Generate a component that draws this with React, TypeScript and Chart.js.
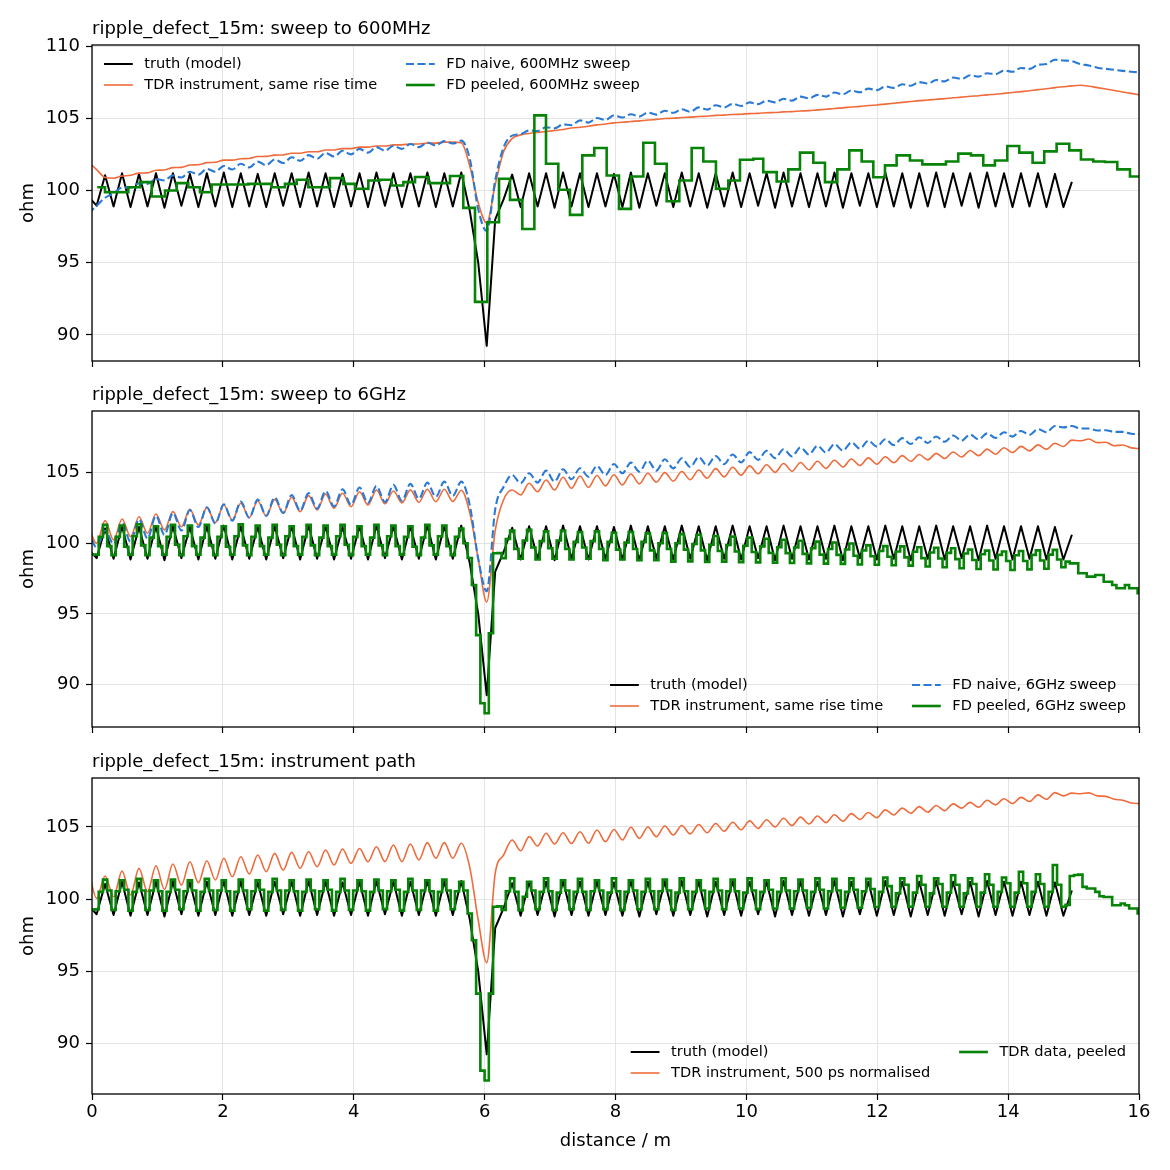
import React, { useEffect, useRef } from "react";
import { Chart, registerables } from "chart.js";

Chart.register(...registerables);
Chart.defaults.font.family = "DejaVu Sans";

// ---------------- axes ----------------
const X_TICKS = [0, 2, 4, 6, 8, 10, 12, 14, 16];
const Y_TICKS_600 = [90, 95, 100, 105, 110];
const Y_TICKS_6G = [90, 95, 100, 105];
const Y_TICKS_INSTR = [90, 95, 100, 105];

// sampling grids (distance, m)
const LINE_X0 = -0.0592; // ripple-resolved curves: one sample per half ripple period
const LINE_DX = 0.1296;
const STEP_X0 = -0.0268; // peeled 6 GHz / TDR profiles: one step per quarter period
const STEP_DX = 0.0648;

// ---------------- truth (model), ohm ----------------
const TRUTH = [
  99.6,
  98.95, 101.05, 98.9, 101.2, 98.85, 101.15, 98.9, 101.2, 98.8, 101.2,
  98.95, 101.15, 98.85, 101.2, 98.9, 101.25, 98.85, 101.2, 98.9, 101.15,
  98.85, 101.2, 98.95, 101.2, 98.85, 101.25, 98.9, 101.2, 98.85, 101.15,
  98.9, 101.2, 98.85, 101.25, 98.95, 101.2, 98.85, 101.2, 98.9, 101.25,
  98.85, 101.2, 98.9, 101.25, 98.6, 95.0, 89.25, 98.0, 99.4, 101.1,
  98.85, 101.2, 98.9, 101.2, 98.8, 101.25, 98.9, 101.2, 98.85, 101.2,
  98.9, 101.15, 98.85, 101.25, 98.8, 101.2, 98.95, 101.2, 98.85, 101.25,
  98.9, 101.2, 98.8, 101.2, 98.9, 101.25, 98.85, 101.2, 98.95, 101.2,
  98.8, 101.25, 98.9, 101.2, 98.85, 101.2, 98.9, 101.25, 98.8, 101.2,
  98.95, 101.2, 98.85, 101.25, 98.9, 101.2, 98.8, 101.2, 98.9, 101.25,
  98.85, 101.2, 98.95, 101.2, 98.8, 101.25, 98.9, 101.2, 98.85, 101.2,
  98.9, 101.2, 98.85, 101.15, 98.85, 100.6,
];

// ---------------- panel 1: sweep to 600 MHz ----------------
const TDR_600 = [
  102.0,
  101.45, 100.9, 100.85, 101.0, 101.05, 101.2, 101.22, 101.4, 101.42, 101.58,
  101.6, 101.76, 101.78, 101.93, 101.95, 102.1, 102.1, 102.2, 102.22, 102.35,
  102.36, 102.45, 102.46, 102.58, 102.58, 102.68, 102.68, 102.8, 102.8, 102.9,
  102.9, 103.0, 103.0, 103.08, 103.08, 103.16, 103.16, 103.22, 103.22, 103.28,
  103.28, 103.35, 103.35, 103.3, 101.7, 99.15, 97.75, 100.4, 102.7, 103.6,
  103.85, 103.95, 104.02, 104.08, 104.15, 104.22, 104.32, 104.38, 104.45, 104.54,
  104.6, 104.68, 104.72, 104.78, 104.82, 104.88, 104.92, 104.98, 105.0, 105.05,
  105.08, 105.12, 105.14, 105.2, 105.22, 105.26, 105.28, 105.32, 105.34, 105.38,
  105.4, 105.44, 105.46, 105.5, 105.53, 105.58, 105.62, 105.68, 105.72, 105.78,
  105.82, 105.88, 105.92, 105.98, 106.04, 106.1, 106.16, 106.22, 106.26, 106.32,
  106.36, 106.42, 106.46, 106.52, 106.56, 106.62, 106.66, 106.72, 106.78, 106.84,
  106.9, 106.98, 107.04, 107.12, 107.18, 107.24, 107.28, 107.22, 107.12, 107.02,
  106.92, 106.82, 106.72, 106.62,
];

const FD_NAIVE_600 = [
  98.4,
  98.95, 99.5, 99.8, 100.2, 100.2, 100.5, 100.45, 100.8, 100.7, 101.05,
  100.9, 101.3, 101.1, 101.5, 101.3, 101.7, 101.45, 101.85, 101.6, 102.0,
  101.75, 102.15, 101.9, 102.3, 102.05, 102.45, 102.2, 102.6, 102.35, 102.75,
  102.5, 102.88, 102.62, 103.0, 102.75, 103.1, 102.88, 103.22, 103.0, 103.32,
  103.12, 103.42, 103.25, 103.45, 102.2, 98.7, 97.2, 100.7, 103.0, 103.8,
  103.9, 104.15, 104.12, 104.38, 104.3, 104.58, 104.52, 104.85, 104.7, 105.02,
  104.88, 105.2, 105.05, 105.28, 105.12, 105.4, 105.25, 105.52, 105.38, 105.62,
  105.45, 105.75, 105.6, 105.9, 105.75, 106.0, 105.85, 106.1, 105.98, 106.22,
  106.1, 106.35, 106.22, 106.5, 106.38, 106.62, 106.5, 106.78, 106.65, 106.92,
  106.8, 107.05, 106.95, 107.2, 107.1, 107.35, 107.25, 107.5, 107.4, 107.65,
  107.55, 107.82, 107.72, 107.98, 107.88, 108.12, 108.05, 108.3, 108.22, 108.48,
  108.42, 108.7, 108.75, 109.05, 109.0, 108.95, 108.75, 108.65, 108.5, 108.42,
  108.35, 108.28, 108.22, 108.18,
];

const FD_PEELED_600_EDGES = [
  0.08, 0.199, 0.555, 0.733, 0.912, 1.116, 1.294, 1.472, 1.65, 1.829,
  2.389, 2.746, 2.949, 3.128, 3.306, 3.637, 3.841, 4.019, 4.223, 4.401,
  4.58, 4.758, 4.936, 5.14, 5.471, 5.674, 5.853, 6.041, 6.22, 6.388,
  6.576, 6.76, 6.938, 7.126, 7.304, 7.493, 7.676, 7.865, 8.053, 8.237,
  8.425, 8.603, 8.782, 8.975, 9.164, 9.342, 9.535, 9.724, 9.902, 10.106,
  10.258, 10.463, 10.641, 10.819, 11.023, 11.201, 11.39, 11.573, 11.762, 11.94,
  12.118, 12.296, 12.5, 12.689, 13.05, 13.238, 13.432, 13.62, 13.798, 13.987,
  14.17, 14.374, 14.552, 14.741, 14.935, 15.113, 15.301, 15.48, 15.668, 15.862,
  16.0,
];
const FD_PEELED_600_LEVELS = [
  100.23, 99.88, 100.23, 100.58, 99.58, 100.0, 100.51, 100.23, 99.88, 100.42,
  100.46, 100.23, 100.46, 100.74, 100.23, 100.86, 100.46, 100.12, 100.69, 100.74,
  100.35, 100.58, 100.93, 100.51, 101.0, 98.8, 92.29, 97.8, 100.81, 99.35,
  97.34, 105.2, 101.85, 100.05, 98.31, 102.43, 102.94, 101.04, 98.73, 100.97,
  103.31, 101.85, 99.26, 100.69, 102.94, 102.01, 100.12, 100.69, 102.13, 102.2,
  101.27, 100.62, 101.46, 102.62, 101.92, 100.58, 101.46, 102.78, 102.01, 100.92,
  101.74, 102.43, 102.08, 101.81, 102.01, 102.55, 102.43, 101.74, 102.08, 103.08,
  102.62, 101.92, 102.71, 103.24, 102.78, 102.15, 102.01, 101.97, 101.46, 100.97,
];

// ---------------- panel 2: sweep to 6 GHz ----------------
const TDR_6G = [
  101.3,
  100.0, 101.6, 100.23, 101.72, 100.47, 101.88, 100.71, 102.07, 100.94, 102.24,
  101.17, 102.4, 101.3, 102.52, 101.46, 102.71, 101.65, 102.83, 101.81, 102.99,
  101.93, 103.11, 102.12, 103.26, 102.24, 103.37, 102.36, 103.49, 102.48, 103.54,
  102.59, 103.65, 102.71, 103.77, 102.8, 103.7, 102.85, 103.78, 102.9, 103.82,
  102.94, 103.82, 102.96, 103.75, 102.15, 98.9, 95.85, 100.9, 103.1, 103.77,
  103.42, 104.25, 103.65, 104.48, 103.77, 104.67, 103.89, 104.76, 103.95, 104.8,
  104.06, 104.85, 104.13, 104.9, 104.2, 104.95, 104.32, 105.0, 104.4, 105.08,
  104.5, 105.18, 104.6, 105.28, 104.7, 105.38, 104.82, 105.48, 104.92, 105.56,
  105.02, 105.64, 105.1, 105.72, 105.2, 105.8, 105.3, 105.88, 105.4, 105.96,
  105.5, 106.04, 105.6, 106.12, 105.7, 106.2, 105.8, 106.28, 105.9, 106.36,
  106.0, 106.46, 106.1, 106.56, 106.2, 106.66, 106.3, 106.76, 106.42, 106.86,
  106.54, 106.96, 106.66, 107.08, 106.85, 107.3, 107.25, 107.38, 107.12, 107.15,
  106.9, 106.95, 106.75, 106.7,
];

const FD_NAIVE_6G = [
  101.0,
  99.7, 100.9, 99.95, 101.45, 100.1, 101.7, 100.35, 101.95, 100.6, 102.15,
  100.9, 102.35, 101.15, 102.55, 101.4, 102.75, 101.6, 102.95, 101.8, 103.1,
  101.95, 103.25, 102.15, 103.42, 102.3, 103.55, 102.45, 103.7, 102.6, 103.82,
  102.72, 103.95, 102.85, 104.05, 102.92, 104.13, 103.0, 104.2, 103.15, 104.29,
  103.28, 104.36, 103.35, 104.36, 102.7, 98.9, 96.6, 102.4, 104.0, 104.83,
  104.25, 104.95, 104.29, 105.14, 104.36, 105.24, 104.53, 105.31, 104.71, 105.47,
  104.83, 105.61, 104.95, 105.71, 105.07, 105.85, 105.14, 105.95, 105.3, 106.02,
  105.4, 106.1, 105.5, 106.18, 105.6, 106.28, 105.72, 106.45, 105.9, 106.55,
  106.02, 106.65, 106.15, 106.78, 106.28, 106.9, 106.42, 107.02, 106.56, 107.14,
  106.7, 107.26, 106.84, 107.36, 106.95, 107.44, 107.02, 107.5, 107.1, 107.56,
  107.18, 107.63, 107.26, 107.7, 107.35, 107.78, 107.45, 107.86, 107.55, 107.95,
  107.68, 108.08, 107.85, 108.3, 108.2, 108.3, 108.12, 108.12, 107.98, 108.0,
  107.88, 107.88, 107.75, 107.72,
];

const FD_PEELED_6G = [
  99.2, 99.2, 100.45,
  101.3, 99.8, 99.15, 100.45, 101.25, 99.75, 99.2, 100.5,
  101.35, 99.85, 99.15, 100.4, 101.2, 99.8, 99.2, 100.45,
  101.3, 99.9, 99.15, 100.5, 101.25, 99.8, 99.2, 100.4,
  101.3, 99.85, 99.15, 100.45, 101.2, 99.75, 99.2, 100.5,
  101.35, 99.85, 99.15, 100.45, 101.25, 99.8, 99.2, 100.4,
  101.3, 99.9, 99.15, 100.5, 101.2, 99.8, 99.2, 100.45,
  101.3, 99.85, 99.15, 100.4, 101.25, 99.8, 99.2, 100.5,
  101.3, 99.9, 99.15, 100.45, 101.2, 99.8, 99.2, 100.4,
  101.3, 99.85, 99.15, 100.5, 101.25, 99.8, 99.2, 100.45,
  101.2, 99.75, 99.15, 100.4, 101.3, 99.85, 99.2, 100.5,
  101.25, 99.8, 99.15, 100.45,
  101.05, 100.0, 98.96, 97.05, 93.5, 88.68, 87.97, 93.63,
  99.29, 99.3, 98.95, 100.3, 100.9, 99.6, 98.9, 100.2,
  100.95, 99.7, 98.85, 100.15, 100.85, 99.65, 98.9, 100.2,
  100.9, 99.6, 98.85, 100.1, 100.8, 99.7, 98.9, 100.15,
  100.85, 99.6, 98.8, 100.1, 100.75, 99.55, 98.85, 100.05,
  100.8, 99.6, 98.8, 100.1, 100.7, 99.5, 98.8, 100.0,
  100.72, 99.6, 98.7, 100.0, 100.65, 99.55, 98.72, 99.95,
  100.6, 99.5, 98.68, 99.9, 100.52, 99.45, 98.7, 99.88,
  100.47, 99.42, 98.66, 99.82, 100.4, 99.38, 98.65, 99.78,
  100.32, 99.32, 98.62, 99.72, 100.25, 99.3, 98.6, 99.7,
  100.18, 99.25, 98.58, 99.65, 100.12, 99.2, 98.56, 99.6,
  100.05, 99.18, 98.54, 99.56, 99.98, 99.12, 98.5, 99.5,
  99.85, 99.08, 98.48, 99.45, 99.8, 99.05, 98.45, 99.42,
  99.78, 99.0, 98.42, 99.4, 99.72, 98.95, 98.36, 99.35,
  99.68, 98.92, 98.3, 99.32, 99.65, 98.88, 98.23, 99.28,
  99.55, 98.82, 98.18, 99.22, 99.48, 98.78, 98.14, 99.18,
  99.42, 98.75, 98.11, 99.15, 99.45, 98.75, 98.15, 99.18,
  99.5, 98.78, 98.2, 99.2, 99.53, 98.85, 98.3, 98.7,
  98.58, 98.58, 97.88, 97.88, 97.64, 97.64, 97.76, 97.76,
  97.28, 97.28, 97.05, 96.82, 96.82, 97.05, 96.82, 96.82,
  96.46,
];

// ---------------- panel 3: instrument path ----------------
const TDR_500PS = [
  102.2,
  100.05, 101.6, 100.16, 101.94, 100.28, 102.13, 100.51, 102.31, 100.67, 102.43,
  100.97, 102.59, 101.13, 102.66, 101.32, 102.83, 101.55, 102.94, 101.74, 103.06,
  101.9, 103.17, 102.01, 103.24, 102.13, 103.28, 102.24, 103.4, 102.36, 103.47,
  102.48, 103.51, 102.59, 103.63, 102.6, 103.75, 102.59, 103.82, 102.71, 103.91,
  102.83, 103.91, 102.83, 103.87, 102.2, 98.54, 95.6, 101.78, 103.06, 104.1,
  103.35, 104.33, 103.68, 104.56, 103.82, 104.6, 103.85, 104.67, 103.87, 104.79,
  103.98, 104.82, 104.1, 104.98, 104.21, 105.0, 104.33, 105.07, 104.44, 105.1,
  104.52, 105.17, 104.6, 105.24, 104.7, 105.32, 104.8, 105.42, 104.9, 105.5,
  105.0, 105.6, 105.1, 105.68, 105.2, 105.76, 105.3, 105.84, 105.4, 105.92,
  105.52, 106.0, 105.64, 106.18, 105.83, 106.3, 105.95, 106.41, 106.02, 106.48,
  106.13, 106.6, 106.3, 106.7, 106.37, 106.85, 106.53, 106.95, 106.62, 107.05,
  106.76, 107.22, 106.92, 107.38, 107.15, 107.34, 107.3, 107.36, 107.15, 107.12,
  106.92, 106.85, 106.66, 106.62,
];

const TDR_PEELED = [
  99.25, 99.3, 100.5,
  101.35, 100.6, 99.25, 100.55, 101.3, 100.65, 99.2, 100.5,
  101.4, 100.6, 99.25, 100.6, 101.3, 100.55, 99.2, 100.5,
  101.35, 100.65, 99.3, 100.55, 101.3, 100.6, 99.2, 100.5,
  101.4, 100.6, 99.25, 100.6, 101.3, 100.55, 99.2, 100.5,
  101.35, 100.6, 99.3, 100.55, 101.3, 100.65, 99.2, 100.5,
  101.4, 100.6, 99.25, 100.6, 101.3, 100.55, 99.2, 100.5,
  101.35, 100.6, 99.3, 100.55, 101.3, 100.65, 99.2, 100.5,
  101.4, 100.6, 99.25, 100.6, 101.3, 100.55, 99.2, 100.5,
  101.35, 100.6, 99.3, 100.55, 101.3, 100.65, 99.2, 100.5,
  101.4, 100.6, 99.25, 100.6, 101.3, 100.55, 99.2, 100.5,
  101.35, 100.6, 99.3, 100.55,
  101.2, 100.6, 99.0, 97.15, 93.45, 88.12, 87.43, 93.45,
  99.47, 99.5, 99.25, 100.55, 101.44, 100.5, 99.24, 100.16,
  101.2, 100.6, 99.3, 100.5, 101.44, 100.55, 99.25, 100.45,
  101.3, 100.6, 99.3, 100.5, 101.4, 100.5, 99.25, 100.55,
  101.3, 100.6, 99.3, 100.45, 101.44, 100.55, 99.25, 100.5,
  101.3, 100.6, 99.3, 100.5, 101.4, 100.55, 99.3, 100.55,
  101.35, 100.6, 99.25, 100.45, 101.44, 100.55, 99.3, 100.5,
  101.3, 100.6, 99.35, 100.5, 101.4, 100.6, 99.3, 100.55,
  101.35, 100.55, 99.35, 100.45, 101.44, 100.6, 99.3, 100.5,
  101.3, 100.65, 99.35, 100.5, 101.45, 100.6, 99.35, 100.55,
  101.35, 100.6, 99.4, 100.5, 101.44, 100.65, 99.35, 100.55,
  101.4, 100.6, 99.4, 100.5, 101.44, 100.65, 99.4, 100.55,
  101.4, 100.7, 99.45, 100.5, 101.5, 100.9, 99.47, 100.4,
  101.44, 101.0, 99.47, 100.45, 101.6, 101.0, 99.47, 100.4,
  101.44, 101.05, 99.47, 100.45, 101.65, 101.0, 99.47, 100.4,
  101.44, 101.05, 99.47, 100.45, 101.72, 101.0, 99.47, 100.5,
  101.5, 101.1, 99.47, 100.45, 101.9, 101.1, 99.47, 100.5,
  101.72, 101.05, 99.47, 100.5, 102.36, 101.0, 99.47, 99.6,
  101.6, 101.67, 101.7, 100.85, 100.74, 100.74, 100.5, 100.2,
  100.15, 100.15, 99.58, 99.58, 99.7, 99.58, 99.35, 99.35,
  99.0,
];

// ---------------- styles ----------------
const C_TRUTH = "#000000";
const C_TDR = "#ef6b3b";
const C_NAIVE = "#2a7ad5";
const C_PEELED = "#078407";
const FONT = "DejaVu Sans";

type Pt = { x: number; y: number };
const onGrid = (vals: number[], x0: number, dx: number): Pt[] =>
  vals.map((y, j) => ({ x: x0 + j * dx, y }));
const stepsOnGrid = (vals: number[], x0: number, dx: number): Pt[] => [
  ...onGrid(vals, x0, dx),
  { x: x0 + vals.length * dx, y: vals[vals.length - 1] },
];
const stepsOnEdges = (edges: number[], levels: number[]): Pt[] =>
  edges.map((x, j) => ({ x, y: levels[Math.min(j, levels.length - 1)] }));

const truthDs = () => ({
  label: "truth (model)",
  data: onGrid(TRUTH, LINE_X0, LINE_DX),
  borderColor: C_TRUTH,
  borderWidth: 2.0,
  borderJoinStyle: "round",
  tension: 0,
  order: 4,
});
const tdrDs = (label: string, vals: number[]) => ({
  label,
  data: onGrid(vals, LINE_X0, LINE_DX),
  borderColor: C_TDR,
  borderWidth: 1.6,
  cubicInterpolationMode: "monotone",
  order: 3,
});
const naiveDs = (label: string, vals: number[]) => ({
  label,
  data: onGrid(vals, LINE_X0, LINE_DX),
  borderColor: C_NAIVE,
  borderWidth: 2.1,
  borderDash: [8, 3.5],
  cubicInterpolationMode: "monotone",
  order: 2,
});
const peeledDs = (label: string, data: Pt[]) => ({
  label,
  data,
  borderColor: C_PEELED,
  borderWidth: 2.6,
  stepped: true,
  order: 1,
});

type PanelCfg = {
  title: string;
  yMin: number;
  yMax: number;
  yTicks: number[];
  showX: boolean;
  padTop: number;
  xHeight: number;
  legendLoc: "upper left" | "lower right";
  datasets: any[];
};

const PANELS: { top: number; height: number; cfg: PanelCfg }[] = [
  {
    top: 0,
    height: 380,
    cfg: {
      title: "ripple_defect_15m: sweep to 600MHz",
      yMin: 88.2,
      yMax: 110.07,
      yTicks: Y_TICKS_600,
      showX: false,
      padTop: 45,
      xHeight: 19,
      legendLoc: "upper left",
      datasets: [
        truthDs(),
        tdrDs("TDR instrument, same rise time", TDR_600),
        naiveDs("FD naive, 600MHz sweep", FD_NAIVE_600),
        peeledDs("FD peeled, 600MHz sweep", stepsOnEdges(FD_PEELED_600_EDGES, FD_PEELED_600_LEVELS)),
      ],
    },
  },
  {
    top: 380,
    height: 366,
    cfg: {
      title: "ripple_defect_15m: sweep to 6GHz",
      yMin: 87.0,
      yMax: 109.36,
      yTicks: Y_TICKS_6G,
      showX: false,
      padTop: 31,
      xHeight: 19,
      legendLoc: "lower right",
      datasets: [
        truthDs(),
        tdrDs("TDR instrument, same rise time", TDR_6G),
        naiveDs("FD naive, 6GHz sweep", FD_NAIVE_6G),
        peeledDs("FD peeled, 6GHz sweep", stepsOnGrid(FD_PEELED_6G, STEP_X0, STEP_DX)),
      ],
    },
  },
  {
    top: 746,
    height: 424,
    cfg: {
      title: "ripple_defect_15m: instrument path",
      yMin: 86.5,
      yMax: 108.39,
      yTicks: Y_TICKS_INSTR,
      showX: true,
      padTop: 32,
      xHeight: 76,
      legendLoc: "lower right",
      datasets: [
        truthDs(),
        tdrDs("TDR instrument, 500 ps normalised", TDR_500PS),
        peeledDs("TDR data, peeled", stepsOnGrid(TDR_PEELED, STEP_X0, STEP_DX)),
      ],
    },
  },
];

function makeDecor(cfg: PanelCfg) {
  return {
    id: "decor",
    afterDraw(chart: any) {
      const { ctx, chartArea: a } = chart;
      ctx.save();
      ctx.setLineDash([]);
      ctx.strokeStyle = "#000";
      ctx.lineWidth = 1.3;
      ctx.strokeRect(a.left, a.top, a.right - a.left, a.bottom - a.top);

      ctx.fillStyle = "#000";
      ctx.font = `18px "${FONT}"`;
      ctx.textAlign = "left";
      ctx.textBaseline = "alphabetic";
      ctx.fillText(cfg.title, a.left, a.top - 11);

      const ds = chart.data.datasets;
      const idx = ds.map((_: any, i: number) => i);
      const rows = Math.ceil(idx.length / 2);
      const cols = [idx.slice(0, rows), idx.slice(rows)];
      ctx.font = `14.6px "${FONT}"`;
      const HANDLE = 28.8, PAD = 11.5, COLSP = 28.8, ROWH = 21;
      const widths = cols.map(
        (c: number[]) => HANDLE + PAD + Math.max(...c.map((i) => ctx.measureText(ds[i].label).width))
      );
      const total = widths[0] + COLSP + widths[1];
      let x0: number, y0: number;
      if (cfg.legendLoc === "upper left") {
        x0 = a.left + 12;
        y0 = a.top + 19;
      } else {
        x0 = a.right - 13 - total;
        y0 = a.bottom - 21 - (rows - 1) * ROWH;
      }
      ctx.textBaseline = "middle";
      cols.forEach((c: number[], ci: number) => {
        const cx = ci === 0 ? x0 : x0 + widths[0] + COLSP;
        c.forEach((i, ri) => {
          const y = y0 + ri * ROWH;
          const d = ds[i];
          ctx.beginPath();
          ctx.setLineDash(d.borderDash || []);
          ctx.strokeStyle = d.borderColor;
          ctx.lineWidth = d.borderWidth;
          ctx.moveTo(cx, y);
          ctx.lineTo(cx + HANDLE, y);
          ctx.stroke();
          ctx.setLineDash([]);
          ctx.fillStyle = "#000";
          ctx.fillText(d.label, cx + HANDLE + PAD, y);
        });
      });
      ctx.restore();
    },
  };
}

function buildConfig(cfg: PanelCfg): any {
  const gridOpts = { color: "#e4e4e4", lineWidth: 1, tickColor: "#000", tickLength: 6, tickWidth: 1.2 };
  const tickFont = { family: FONT, size: 18 };
  return {
    type: "line",
    data: { datasets: cfg.datasets.map((d) => ({ ...d, pointRadius: 0, fill: false })) },
    options: {
      animation: false,
      responsive: false,
      maintainAspectRatio: false,
      devicePixelRatio: 1,
      events: [],
      layout: { padding: { top: cfg.padTop, right: 31, left: 0, bottom: 0 } },
      plugins: { legend: { display: false }, tooltip: { enabled: false }, title: { display: false } },
      elements: { point: { radius: 0 } },
      scales: {
        x: {
          type: "linear",
          min: 0,
          max: 16,
          afterBuildTicks: (s: any) => {
            s.ticks = X_TICKS.map((v) => ({ value: v }));
          },
          afterFit: (s: any) => {
            s.height = cfg.xHeight;
          },
          ticks: { display: cfg.showX, font: tickFont, color: "#000", padding: 2, maxRotation: 0, autoSkip: false },
          grid: gridOpts,
          border: { display: false },
          title: {
            display: cfg.showX,
            text: "distance / m",
            font: tickFont,
            color: "#000",
            padding: { top: 0, bottom: 18 },
          },
        },
        y: {
          type: "linear",
          min: cfg.yMin,
          max: cfg.yMax,
          afterBuildTicks: (s: any) => {
            s.ticks = cfg.yTicks.map((v) => ({ value: v }));
          },
          afterFit: (s: any) => {
            s.width = 92;
          },
          ticks: { font: tickFont, color: "#000", padding: 6 },
          grid: gridOpts,
          border: { display: false },
          title: { display: true, text: "ohm", font: tickFont, color: "#000", padding: { top: 18, bottom: 0 } },
        },
      },
    },
    plugins: [makeDecor(cfg)],
  };
}

function Panel({ top, height, cfg }: { top: number; height: number; cfg: PanelCfg }) {
  const ref = useRef<HTMLCanvasElement>(null);
  useEffect(() => {
    if (!ref.current) return;
    const chart = new Chart(ref.current, buildConfig(cfg));
    return () => chart.destroy();
  }, [cfg]);
  return (
    <canvas
      ref={ref}
      width={1170}
      height={height}
      style={{ position: "absolute", left: 0, top, width: 1170, height }}
    />
  );
}

export default function App() {
  return (
    <div style={{ position: "absolute", left: 0, top: 0, width: 1170, height: 1170, background: "#fff" }}>
      {PANELS.map((p, i) => (
        <Panel key={i} top={p.top} height={p.height} cfg={p.cfg} />
      ))}
    </div>
  );
}
